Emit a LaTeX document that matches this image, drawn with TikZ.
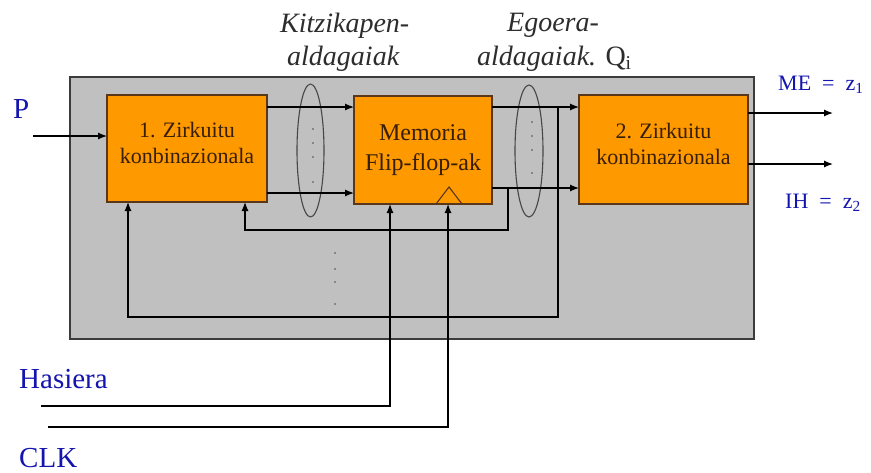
\documentclass[tikz,border=0pt]{standalone}
\usepackage{fontspec}
\setmainfont{Liberation Serif}
\usetikzlibrary{arrows.meta,calc,shapes.geometric}
\definecolor{boxorange}{RGB}{255,153,0}
\definecolor{boxedge}{RGB}{90,55,25}
\definecolor{panelfill}{RGB}{192,192,192}
\definecolor{paneledge}{RGB}{60,60,60}
\definecolor{lblue}{RGB}{20,20,175}
\definecolor{itgray}{RGB}{45,45,45}
\definecolor{boxtxtc}{RGB}{55,30,5}
\definecolor{ellc}{RGB}{70,70,70}
\tikzset{
  panelbox/.style={draw=paneledge, fill=panelfill, line width=1.2pt, inner sep=0pt, outer sep=0pt},
  fbox/.style={draw=boxedge, fill=boxorange, line width=1.3pt, inner sep=0pt, outer sep=0pt},
  wire/.style={draw=black, line width=1.2pt},
  arr/.style={wire, -{Latex[length=9pt,width=7pt]}},
  ovalbus/.style={draw=ellc, line width=1.1pt, ellipse, inner sep=0pt, outer sep=0pt},
  toplbl/.style={text=itgray, font=\fontsize{28}{33}\selectfont\itshape, inner sep=0pt, anchor=base west},
  bluelbl/.style={text=lblue, font=\fontsize{29}{34}\selectfont, inner sep=0pt, anchor=base west},
  outlbl/.style={text=lblue, font=\fontsize{22}{26}\selectfont, inner sep=0pt, anchor=base west},
  boxtxt/.style={text=boxtxtc, align=center, inner sep=0pt},
  busdot/.style={fill=black!70},
}
\begin{document}
\begin{tikzpicture}[x=1pt,y=-1pt]
\useasboundingbox (0,0) rectangle (871,472);
\fill[white] (0,0) rectangle (871,472);

% panel and blocks
\node[panelbox, minimum width=684pt, minimum height=262pt] (panel) at (412,208) {};
\node[fbox, minimum width=160pt, minimum height=107pt] (b1) at (187,148.5) {};
\node[fbox, minimum width=138pt, minimum height=108pt] (mem) at (423,150) {};
\node[fbox, minimum width=169pt, minimum height=109pt] (b2) at (663.5,149.5) {};
\draw[draw=boxedge, line width=1.1pt] (436,204) -- (449,187) -- (462,204);

\node[boxtxt, font=\fontsize{22}{26}\selectfont] (t1) at ([yshift=5.5pt]b1.center) {1. Zirkuitu\\konbinazionala};
\node[boxtxt, font=\fontsize{24}{30}\selectfont] (t2) at (mem.center) {Memoria\\Flip-flop-ak};
\node[boxtxt, font=\fontsize{22}{26}\selectfont] (t3) at ([yshift=5.5pt]b2.center) {2. Zirkuitu\\konbinazionala};

% bus ellipses
\node[ovalbus, minimum width=27pt, minimum height=133pt] (e1) at (310.5,150.5) {};
\node[ovalbus, minimum width=28pt, minimum height=132pt] (e2) at (529,151) {};
\foreach \yy in {129,143,157,182} \fill[busdot] (313,\yy) circle[radius=0.8];
\foreach \yy in {122,136,150,173} \fill[busdot] (532,\yy) circle[radius=0.8];
\foreach \yy in {253,269,282,304} \fill[busdot] (335,\yy) circle[radius=0.8];

% levels
\coordinate (yA) at (0,107);
\coordinate (yB) at (0,193);
\coordinate (yC) at (0,188);
\coordinate (pin) at (33,136);
\coordinate (vt) at (558,107);
\coordinate (vb) at (558,317);
\coordinate (lb) at (128,317);
\coordinate (wt) at (508,188);
\coordinate (wb) at (508,230);
\coordinate (lb2) at (245,230);
\coordinate (hs) at (41,406);
\coordinate (hc) at (390,406);
\coordinate (ks) at (48,427);
\coordinate (kc) at (448,427);
\coordinate (o1) at (833,113);
\coordinate (o2) at (833,164);

% connectors
\draw[arr] (pin) -- (pin -| b1.west);
\draw[arr] (b1.east |- yA) -- (mem.west |- yA);
\draw[arr] (b1.east |- yB) -- (mem.west |- yB);
\draw[arr] (mem.east |- yA) -- (b2.west |- yA);
\draw[arr] (mem.east |- yC) -- (b2.west |- yC);
\draw[arr] (vt) -- (vb) -- (lb) -- (lb |- b1.south);
\draw[arr] (wt) -- (wb) -- (lb2) -- (lb2 |- b1.south);
\draw[arr] (hs) -- (hc) -- (hc |- mem.south);
\draw[arr] (ks) -- (kc) -- (kc |- mem.south);
\draw[arr] (b2.east |- o1) -- (o1);
\draw[arr] (b2.east |- o2) -- (o2);

% labels
\node[toplbl] (k1) at (280,32) {Kitzikapen-};
\node[toplbl] (k2) at (287,65) {aldagaiak};
\node[toplbl] (g1) at (507,31) {Egoera-};
\node[toplbl] (g2) at (477,65) {aldagaiak. {\upshape Q\textsubscript{i}}};
\node[bluelbl] (lp) at (13,118) {P};
\node[bluelbl] (lh) at (19,388) {Hasiera};
\node[bluelbl] (lk) at (19,467) {CLK};
\node[outlbl] (lme) at (778,90) {ME\ \ =\ \ z\textsubscript{1}};
\node[outlbl] (lih) at (785,208) {IH\ \ =\ \ z\textsubscript{2}};
\end{tikzpicture}
\end{document}
